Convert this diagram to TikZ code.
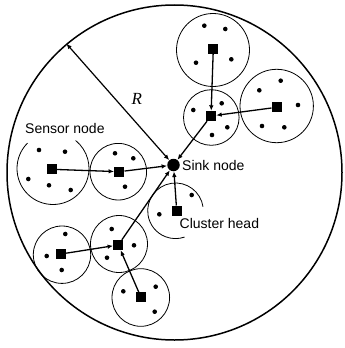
\documentclass[tikz,border=0pt]{standalone}
\usepackage{fontspec}
\setmainfont{Liberation Sans}
\newfontfamily\serifR{Liberation Serif}
\usetikzlibrary{arrows.meta}
\begin{document}
\begin{tikzpicture}[x=1pt,y=-1pt,
  clus/.style={line width=0.8pt},
  head/.style={rectangle, fill=black, minimum size=10pt, inner sep=0pt},
  link/.style={line width=1.3pt, -{Latex[length=5.5pt,width=4.5pt]}},
  lbl/.style={font=\fontsize{14}{16}\selectfont, inner sep=0pt, anchor=west}]
\useasboundingbox (0,0) rectangle (345,348);
% field
\node[circle, draw, line width=1.5pt, minimum size=335pt, inner sep=0pt] (field) at (174.5,172.5) {};
% sink
\node[circle, fill=black, minimum size=12.5pt, inner sep=0pt] (sink) at (173.5,165) {};
\node[lbl] (sinklbl) at (182,165.7) {Sink node};
% cluster circles
\draw[clus] (213,50) circle (36.5);
\draw[clus] (211.3,117.5) circle (27.8);
\draw[clus] (276.7,106) circle (36.7);
\draw[clus] (53,168.5) ++(-135:36) arc[start angle=-135, end angle=-411, radius=36];
\draw[clus] (118.3,171.7) circle (28.3);
\draw[clus] (175.5,210.8) ++(-8.5:27.8) arc[start angle=-8.5, end angle=-289, radius=27.8];
\draw[clus] (62,254.7) circle (28.7);
\draw[clus] (119,244) circle (28.5);
\draw[clus] (140.8,297.5) circle (28.8);
% member dots
\foreach \p in {(204.3,25.7),(225.3,29),(196,62.7),(231.3,59.3),
  (193.3,110),(221.7,103.3),(227.3,127.3),(212,135),
  (280.7,80.7),(259.3,90.3),(298,105),(262,126),(284.3,127.3),
  (39,150),(65,151.7),(28.3,179),(49,185.3),(70.7,190),
  (115,153.3),(133.3,158.3),(125,186.7),
  (159.3,214.3),(191.7,195),
  (65.3,234),(46.7,256),(61.7,270),
  (111.7,229),(134,245.3),(107,257.7),
  (123.3,291.3),(155.7,286.7),(154.7,311.7)}
  \fill \p circle (2.3);
% cluster heads
\node[head] (h1) at (213.3,49) {};
\node[head] (h2) at (211,116) {};
\node[head] (h3) at (276.7,107.3) {};
\node[head] (h4) at (51.7,169.3) {};
\node[head] (h5) at (119.3,171.7) {};
\node[head] (h6) at (176.7,210.7) {};
\node[head] (h7) at (61,254) {};
\node[head] (h8) at (118.3,245) {};
\node[head] (h9) at (141,297.3) {};
% links
\draw[link] (h1) -- (h2);
\draw[link] (h3) -- (h2);
\draw[link] (h2) -- (sink);
\draw[link] (h4) -- (h5);
\draw[link] (h5) -- (sink);
\draw[link] (h6) -- (sink);
\draw[link] (h7) -- (h8);
\draw[link] (h9) -- (h8);
\draw[link] (h8) -- (sink);
% radius
\draw[line width=1.2pt, {Latex[length=5.5pt,width=4.5pt]}-{Latex[length=5.5pt,width=4.5pt]}] (field.130.6) -- (sink);
\node[font=\serifR\itshape\fontsize{17}{19}\selectfont, inner sep=0pt] (rlab) at (136.7,98.7) {R};
% labels
\node[lbl] (sensorlbl) at (25,128.5) {Sensor node};
\node[lbl] (headlbl) at (179.5,223.3) {Cluster head};
\end{tikzpicture}
\end{document}
